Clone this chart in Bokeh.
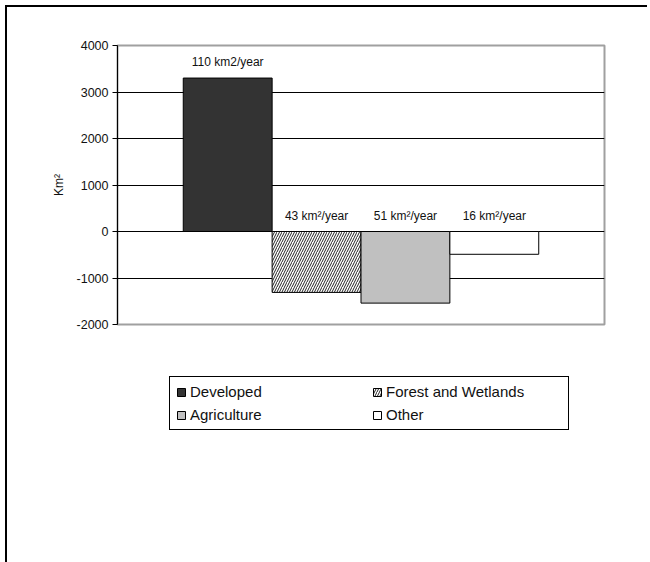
from bokeh.plotting import figure
from bokeh.models import Range1d, FixedTicker, Legend, LegendItem, ColumnDataSource, PrintfTickFormatter
from bokeh.core.properties import value
from bokeh.embed import file_html
from bokeh.resources import INLINE

categories = ["Developed", "Forest and Wetlands", "Agriculture", "Other"]
values = [3300, -1310, -1540, -490]
rate_labels = ["110 km2/year", "43 km\u00b2/year", "51 km\u00b2/year", "16 km\u00b2/year"]
fill_colors = ["#333333", "#ffffff", "#c0c0c0", "#ffffff"]
hatches = [" ", "/", " ", " "]
y_ticks = [-2000, -1000, 0, 1000, 2000, 3000, 4000]
grid_ticks = [-1000, 0, 1000, 2000, 3000]

FONT = "Liberation Sans"
xs = list(range(len(categories)))
src = ColumnDataSource(dict(
    x=xs, top=values, fill=fill_colors, hatch=hatches,
    label=rate_labels, label_y=[max(v, 0) for v in values],
))

gap = 0.74
p = figure(frame_width=487, frame_height=279, output_backend="svg", toolbar_location=None,
           x_range=Range1d(-0.5 - gap, len(xs) - 0.5 + gap),
           y_range=Range1d(min(y_ticks), max(y_ticks)),
           min_border_left=110, min_border_right=43, min_border_top=38, min_border_bottom=235,
           x_axis_type=None)
p.styles = {"margin-top": "5px", "margin-left": "5px",
            "border-top": "2px solid #000", "border-left": "2px solid #000"}

p.outline_line_color = "#a0a0a0"
p.outline_line_width = 2
p.xgrid.visible = False
p.ygrid.ticker = FixedTicker(ticks=grid_ticks)
p.ygrid.grid_line_color = "#000000"
p.ygrid.grid_line_width = 1

ax = p.yaxis[0]
ax.ticker = FixedTicker(ticks=y_ticks)
ax.formatter = PrintfTickFormatter(format="%d")
ax.axis_line_color = "#000000"
ax.major_tick_line_color = "#000000"
ax.major_tick_out = 5
ax.major_tick_in = 0
ax.minor_tick_line_color = None
ax.major_label_standoff = 4
ax.major_label_text_font = FONT
ax.major_label_text_font_size = "12.5px"
ax.major_label_text_color = "#111111"
ax.axis_label = "Km\u00b2"
ax.axis_label_text_font = FONT
ax.axis_label_text_font_size = "12px"
ax.axis_label_text_font_style = "normal"
ax.axis_label_text_color = "#111111"
ax.axis_label_standoff = 8

bars = p.vbar(x="x", top="top", bottom=0, width=1, source=src,
              fill_color="fill", line_color="#000000", line_width=1,
              hatch_pattern="hatch", hatch_color="#222222", hatch_scale=5, hatch_weight=1)

p.text(x="x", y="label_y", text="label", source=src, text_align="center",
       text_baseline="bottom", y_offset=-9, text_font=value(FONT),
       text_font_size="12px", text_color="#111111")

items = [LegendItem(label=c, renderers=[bars], index=i) for i, c in enumerate(categories)]
legend = Legend(items=items, location="top_left", orientation="horizontal", ncols=2,
                border_line_color="#000000", border_line_width=1, border_line_alpha=1,
                padding=6, spacing=6, margin=52,
                glyph_width=10, glyph_height=10, label_standoff=4,
                label_width=176, label_height=17,
                label_text_font=FONT, label_text_font_size="15px",
                label_text_color="#111111", background_fill_alpha=1)
p.add_layout(legend, "below")

open("out.html", "w").write(file_html(p, INLINE))
